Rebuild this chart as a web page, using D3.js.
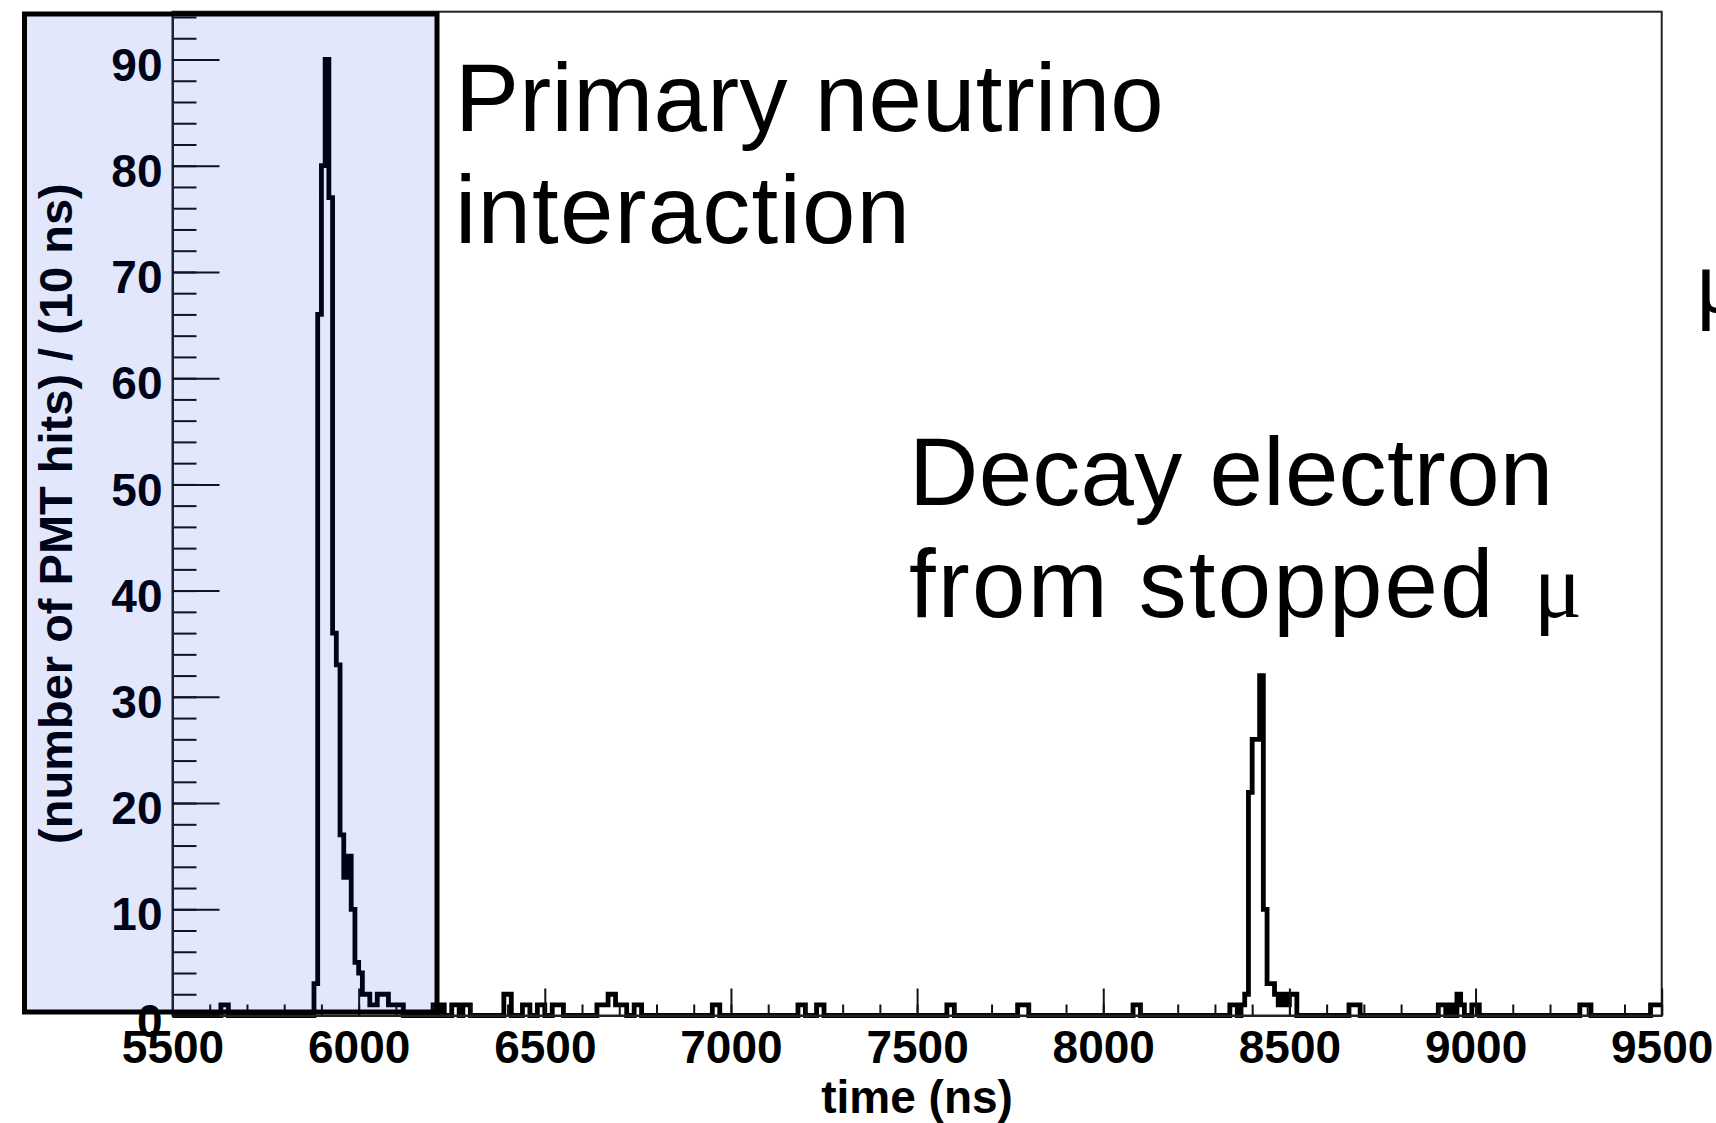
<!DOCTYPE html>
<html>
<head>
<meta charset="utf-8">
<script src="https://cdn.jsdelivr.net/npm/d3@7"></script>
<style>
	html, body { margin: 0; padding: 0; background: #fff; }
	svg { display: block; }
</style>
</head>
<body>
<div id="chart"></div>
<script>
// histogram bins, 10 ns wide, [bin start (ns), PMT hits]
const binWidth = 10

const primaryPeak = [
	[5880, 3], [5890, 66], [5900, 80], [5910, 90], [5920, 77], [5930, 36],
	[5940, 33], [5950, 17], [5960, 13], [5970, 15], [5980, 10], [5990, 5],
	[6000, 4], [6010, 2], [6020, 2], [6030, 1], [6040, 1], [6050, 2],
	[6060, 2], [6070, 2], [6080, 1], [6090, 1], [6100, 1], [6110, 1]
]

const decayPeak = [
	[8370, 1], [8380, 2], [8390, 21], [8400, 26], [8410, 26], [8420, 32],
	[8430, 10], [8440, 3], [8450, 3], [8460, 2], [8470, 1], [8480, 2],
	[8490, 1], [8500, 2], [8510, 2]
]

const noiseHits = [
	[5630, 1], [5640, 1],
	[6200, 1], [6220, 1], [6250, 1], [6260, 1], [6280, 1], [6290, 1],
	[6390, 2], [6400, 2], [6440, 1], [6450, 1], [6480, 1], [6490, 1],
	[6520, 1], [6530, 1], [6540, 1],
	[6640, 1], [6650, 1], [6660, 1], [6670, 2], [6680, 2], [6690, 1],
	[6700, 1], [6710, 1], [6740, 1], [6750, 1],
	[6950, 1], [6960, 1],
	[7180, 1], [7190, 1], [7230, 1], [7240, 1],
	[7580, 1], [7590, 1], [7770, 1], [7780, 1], [7790, 1],
	[8080, 1], [8090, 1], [8340, 1], [8350, 1],
	[8660, 1], [8670, 1], [8680, 1],
	[8900, 1], [8910, 1], [8930, 1], [8950, 2], [8960, 1], [8990, 1], [9000, 1],
	[9280, 1], [9290, 1], [9300, 1],
	[9470, 1], [9480, 1], [9490, 1]
]

const xTickValues = [5500, 6000, 6500, 7000, 7500, 8000, 8500, 9000, 9500]
const yTickValues = [0, 10, 20, 30, 40, 50, 60, 70, 80, 90]

const xTitle = 'time (ns)'
const yTitle = '(number of PMT hits) / (10 ns)'
const primaryNote = ['Primary neutrino', 'interaction']
const decayNote = ['Decay electron', 'from stopped']
const muSymbol = 'μ'

class TimeHistogram {
	constructor(params) {
		this.attrs = Object.assign(
			{
				container: '#chart',
				width: 1716,
				height: 1123,
				margin: { top: 11.7, left: 172.5, right: 54.3, bottom: 107.5 },
				xDomain: [5500, 9500],
				yDomain: [0, 94.5],
				lineColor: '#000',
				frameColor: '#222',
				overlayFill: 'rgba(0, 36, 227, 0.11)',
				axisFont: "bold 46px 'Liberation Sans', Arial, Helvetica, sans-serif",
				noteFont: "96px 'Liberation Sans', Arial, Helvetica, sans-serif",
				symbolFamily: "'Liberation Serif', 'Times New Roman', serif",
			},
			params
		)
		this.main()
	}

	main() {
		const { attrs } = this

		this.chartWidth = attrs.width - attrs.margin.left - attrs.margin.right
		this.chartHeight = attrs.height - attrs.margin.top - attrs.margin.bottom

		this.x = d3.scaleLinear().domain(attrs.xDomain).range([0, this.chartWidth])
		this.y = d3.scaleLinear().domain(attrs.yDomain).range([this.chartHeight, 0])

		//Add svg
		this.svg = d3
			.select(attrs.container)
			.append('svg')
			.attr('width', attrs.width)
			.attr('height', attrs.height)

		this.svg
			.append('rect')
			.attr('width', attrs.width)
			.attr('height', attrs.height)
			.attr('fill', '#fff')

		//Add chart group
		this.chart = this.svg
			.append('g')
			.attr('class', 'chart')
			.attr('transform', `translate(${attrs.margin.left},${attrs.margin.top})`)

		this.drawHistogram()
		this.drawAxes()
		this.drawOverlay()
		this.drawNotes()
	}

	getBins() {
		const [t0, t1] = this.attrs.xDomain
		const counts = new Map()
		primaryPeak.concat(decayPeak, noiseHits).forEach(([t, v]) => counts.set(t, v))

		return d3.range(t0, t1, binWidth).map(t => [t, counts.get(t) || 0])
	}

	drawHistogram() {
		const { attrs, x, y } = this

		const points = []
		this.getBins().forEach(([t, v]) => {
			points.push([t, v], [t + binWidth, v])
		})

		const line = d3
			.line()
			.x(d => x(d[0]))
			.y(d => y(d[1]))

		this.chart
			.append('path')
			.attr('class', 'histogram')
			.attr('d', line(points))
			.attr('fill', 'none')
			.attr('stroke', attrs.lineColor)
			.attr('stroke-width', 4.8)
			.attr('stroke-linejoin', 'miter')
	}

	drawAxes() {
		const { attrs, x, y, chartWidth, chartHeight } = this

		// frame
		this.chart
			.append('rect')
			.attr('width', chartWidth)
			.attr('height', chartHeight)
			.attr('fill', 'none')
			.attr('stroke', attrs.frameColor)
			.attr('stroke-width', 2)

		// minor ticks first, majors on top
		const xMinor = d3
			.axisBottom(x)
			.tickValues(d3.range(attrs.xDomain[0], attrs.xDomain[1] + 1, 100))
			.tickSizeInner(-11)
			.tickSizeOuter(0)
			.tickFormat('')

		const yMinor = d3
			.axisLeft(y)
			.tickValues(d3.range(0, attrs.yDomain[1], 2))
			.tickSizeInner(-24)
			.tickSizeOuter(0)
			.tickFormat('')

		const xMajor = d3
			.axisBottom(x)
			.tickValues(xTickValues)
			.tickSizeInner(-27)
			.tickSizeOuter(0)
			.tickPadding(15)
			.tickFormat(d3.format('d'))

		const yMajor = d3
			.axisLeft(y)
			.tickValues(yTickValues)
			.tickSizeInner(-47)
			.tickSizeOuter(0)
			.tickPadding(10)
			.tickFormat(d3.format('d'))

		const styleAxis = g => {
			g.select('.domain').attr('stroke', attrs.frameColor).attr('stroke-width', 2)
			g.selectAll('.tick line').attr('stroke', '#111').attr('stroke-width', 2)
			g.selectAll('.tick text')
				.style('font', attrs.axisFont)
				.attr('fill', '#000')
		}

		this.chart
			.append('g')
			.attr('transform', `translate(0,${chartHeight})`)
			.call(xMinor)
			.call(styleAxis)

		this.chart.append('g').call(yMinor).call(styleAxis)

		this.chart
			.append('g')
			.attr('class', 'x-axis')
			.attr('transform', `translate(0,${chartHeight})`)
			.call(xMajor)
			.call(styleAxis)

		this.chart
			.append('g')
			.attr('class', 'y-axis')
			.call(yMajor)
			.call(styleAxis)
			.selectAll('.tick text')
			.attr('dy', '0.45em')

		// axis titles
		this.chart
			.append('text')
			.attr('x', chartWidth / 2)
			.attr('y', chartHeight + 97.5)
			.attr('text-anchor', 'middle')
			.style('font', attrs.axisFont)
			.text(xTitle)

		this.chart
			.append('text')
			.attr('transform', 'rotate(-90)')
			.attr('x', -chartHeight / 2)
			.attr('y', 72 - attrs.margin.left)
			.attr('text-anchor', 'middle')
			.style('font', attrs.axisFont)
			.style('font-size', '47px')
			.text(yTitle)
	}

	drawOverlay() {
		const { attrs } = this

		// translucent box over the primary interaction window
		this.svg
			.append('rect')
			.attr('class', 'overlay')
			.attr('x', 24.5)
			.attr('y', 14)
			.attr('width', 412.5)
			.attr('height', 998)
			.attr('fill', attrs.overlayFill)
			.attr('stroke', '#000')
			.attr('stroke-width', 5)
	}

	drawNotes() {
		const { attrs } = this

		const addNote = (lines, x, y, spacing) => {
			const text = this.svg
				.append('text')
				.attr('x', x)
				.attr('y', y)
				.style('font', attrs.noteFont)
				.attr('fill', '#000')

			lines.forEach((line, i) => {
				text
					.append('tspan')
					.attr('x', x)
					.attr('dy', i === 0 ? 0 : 112)
					.style('letter-spacing', `${spacing[i]}px`)
					.text(line)
			})
			return text
		}

		addNote(primaryNote, 455, 131, [0.3, 1.2])

		const decay = addNote(decayNote, 909, 505, [0.3, 2.2])
		decay
			.append('tspan')
			.attr('dx', 38)
			.style('letter-spacing', '0px')
			.style('font-family', attrs.symbolFamily)
			.style('font-size', '90px')
			.text(muSymbol)

		// stray symbol at the right edge
		this.svg
			.append('text')
			.attr('x', 1695)
			.attr('y', 312)
			.style('font', attrs.noteFont)
			.style('font-family', attrs.symbolFamily)
			.style('font-size', '90px')
			.text(muSymbol)
	}
}

new TimeHistogram({ container: '#chart' })
</script>
</body>
</html>
